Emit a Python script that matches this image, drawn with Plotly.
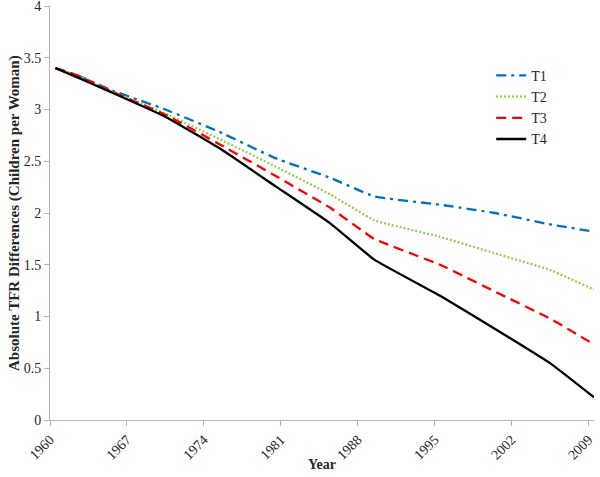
import plotly.graph_objects as go

years = [1960, 1962, 1965, 1970, 1975, 1980, 1985, 1989, 1995, 2000, 2005, 2009]
t1 = [3.40, 3.33, 3.19, 3.00, 2.78, 2.53, 2.34, 2.16, 2.08, 2.00, 1.89, 1.82]
t2 = [3.40, 3.33, 3.18, 2.96, 2.71, 2.45, 2.18, 1.93, 1.77, 1.61, 1.45, 1.26]
t3 = [3.40, 3.33, 3.18, 2.95, 2.66, 2.36, 2.05, 1.75, 1.50, 1.24, 0.98, 0.73]
t4 = [3.40, 3.31, 3.17, 2.93, 2.62, 2.26, 1.90, 1.55, 1.20, 0.88, 0.55, 0.22]
tick_years = [1960, 1967, 1974, 1981, 1988, 1995, 2002, 2009]
y_ticks = [0, 0.5, 1, 1.5, 2, 2.5, 3, 3.5, 4]

FONT = "Liberation Serif"
TXT = "#262626"
xpos = [y + 0.5 for y in years]  # category centres

series = [
    ("T1", t1, "#0070C0", "10px,5px,3px,5px"),
    ("T2", t2, "#92D050", "2px,2px"),
    ("T3", t3, "#FF0000", "10px,6px"),
    ("T4", t4, "#000000", "solid"),
]

fig = go.Figure()
for name, vals, color, dash in series:
    fig.add_trace(go.Scatter(
        x=xpos, y=vals, mode="lines", name=name,
        line=dict(color=color, width=2.3, dash=dash, shape="spline", smoothing=0.3),
        cliponaxis=False,
    ))

axis_common = dict(
    showgrid=False, zeroline=False, showline=True, linecolor="#b3b3b3", linewidth=1,
    ticks="outside", ticklen=5, tickcolor="#b3b3b3", automargin=False,
    ticklabeloverflow="allow",
    tickfont=dict(family=FONT, size=14, color=TXT),
)

fig.update_layout(
    width=600, height=477,
    margin=dict(l=50, r=6, t=6, b=57),
    paper_bgcolor="white", plot_bgcolor="white",
    font=dict(family=FONT, size=14, color=TXT),
    showlegend=True,
    legend=dict(
        x=0.811, y=0.87, xanchor="left", yanchor="top",
        font=dict(family=FONT, size=14, color=TXT),
        bgcolor="rgba(0,0,0,0)", tracegroupgap=0, itemwidth=30,
    ),
    xaxis=dict(
        range=[1960, 2009.5], tickmode="array", tickvals=tick_years,
        ticktext=[str(t) for t in tick_years], tickangle=-45,
        **axis_common,
    ),
    yaxis=dict(
        range=[0, 4.0001], tickmode="array", tickvals=y_ticks,
        ticktext=[f"{v:g}" for v in y_ticks],
        **axis_common,
    ),
    annotations=[
        dict(text="<b>Year</b>", xref="paper", yref="paper", x=0.5, y=-0.1, yshift=-3,
             xanchor="center", yanchor="middle", showarrow=False,
             font=dict(family=FONT, size=14, color=TXT)),
        dict(text="<b>Absolute TFR Differences (Children per Woman)</b>",
             xref="paper", yref="paper", x=0, xshift=-36, y=0.5, textangle=-90,
             xanchor="center", yanchor="middle", showarrow=False,
             font=dict(family=FONT, size=15, color=TXT)),
    ],
)

fig.write_html("out.html", config={"displayModeBar": False},
               post_script="document.body.style.margin='0';document.body.style.overflow='hidden';")
